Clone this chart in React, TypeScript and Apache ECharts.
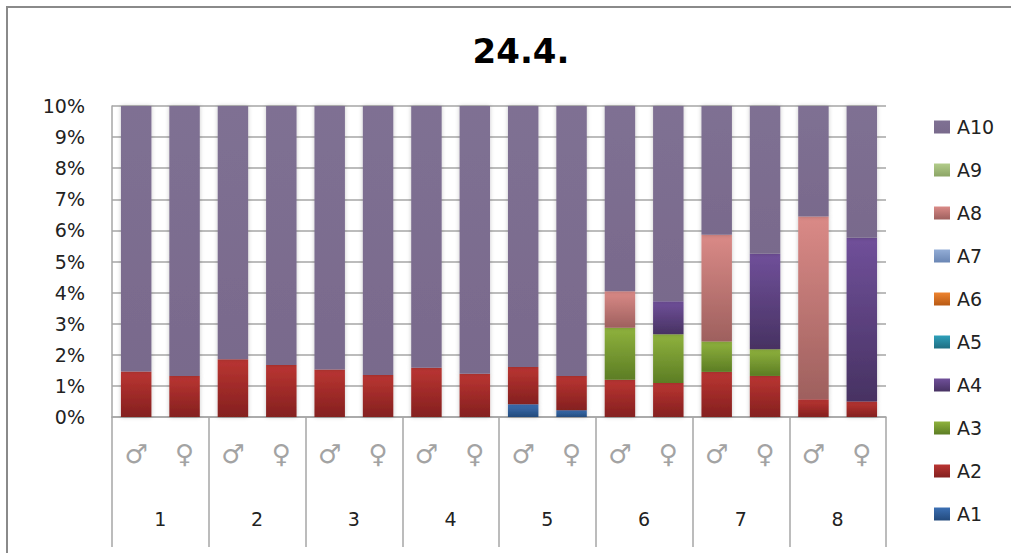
import React, { useEffect, useRef } from "react";
import * as echarts from "echarts";

// Sex sub-categories (bottom row of the two-level axis) and group numbers
const sexLabels = ["♂", "♀", "♂", "♀", "♂", "♀", "♂", "♀", "♂", "♀", "♂", "♀", "♂", "♀", "♂", "♀"];
const groupLabels = ["1", "2", "3", "4", "5", "6", "7", "8"];
const yTicks = [0, 1, 2, 3, 4, 5, 6, 7, 8, 9, 10];

// Share of each class per bar, in percent
const a1 = [0, 0, 0, 0, 0, 0, 0, 0, 0.41, 0.22, 0, 0, 0, 0, 0, 0];
const a2 = [1.46, 1.32, 1.86, 1.67, 1.53, 1.35, 1.58, 1.39, 1.2, 1.1, 1.2, 1.09, 1.45, 1.32, 0.57, 0.5];
const a3 = [0, 0, 0, 0, 0, 0, 0, 0, 0, 0, 1.67, 1.57, 0.98, 0.86, 0, 0];
const a4 = [0, 0, 0, 0, 0, 0, 0, 0, 0, 0, 0, 1.06, 0, 3.07, 0, 5.26];
const a5 = [0, 0, 0, 0, 0, 0, 0, 0, 0, 0, 0, 0, 0, 0, 0, 0];
const a6 = [0, 0, 0, 0, 0, 0, 0, 0, 0, 0, 0, 0, 0, 0, 0, 0];
const a7 = [0, 0, 0, 0, 0, 0, 0, 0, 0, 0, 0, 0, 0, 0, 0, 0];
const a8 = [0, 0, 0, 0, 0, 0, 0, 0, 0, 0, 1.17, 0, 3.43, 0, 5.88, 0];
const a9 = [0, 0, 0, 0, 0, 0, 0, 0, 0, 0, 0, 0, 0, 0, 0, 0];
const a10 = [98.54, 98.68, 98.14, 98.33, 98.47, 98.65, 98.42, 98.61, 98.39, 98.68, 95.96, 96.28, 94.14, 94.75, 93.55, 94.24];

const seriesNames = ["A1", "A2", "A3", "A4", "A5", "A6", "A7", "A8", "A9", "A10"];
const seriesValues = [a1, a2, a3, a4, a5, a6, a7, a8, a9, a10];

// top / bottom shades of each class
const shades: [string, string][] = [
  ["#3C70B4", "#234A7C"],
  ["#BA3532", "#84201F"],
  ["#8FB23D", "#5C7D24"],
  ["#70509A", "#473262"],
  ["#2FA0BA", "#1F6E82"],
  ["#EE8430", "#B85A14"],
  ["#93ADD6", "#6A86B4"],
  ["#DA8A87", "#9E605E"],
  ["#B2CC8A", "#8CA566"],
  ["#7F7093", "#796A8C"],
];

const FONT = "DejaVu Sans";

export default function App() {
  const ref = useRef<HTMLDivElement>(null);

  useEffect(() => {
    if (!ref.current) return;
    const chart = echarts.init(ref.current, null, { renderer: "svg" });

    const series = seriesNames.map((name, i) => ({
      name,
      type: "bar",
      stack: "total",
      xAxisIndex: 0,
      barCategoryGap: "37%",
      clip: true,
      data: seriesValues[i],
      itemStyle: {
        color: new echarts.graphic.LinearGradient(0, 0, 0, 1, [
          { offset: 0, color: shades[i][0] },
          { offset: 1, color: shades[i][1] },
        ]),
        shadowColor: "rgba(0,0,0,0.22)",
        shadowBlur: 4,
      },
    }));

    chart.setOption({
      animation: false,
      backgroundColor: "#ffffff",
      title: {
        text: "24.4.",
        left: 516,
        top: 29,
        textAlign: "center",
        textStyle: { fontFamily: FONT, fontWeight: "bold", fontSize: 34, color: "#000" },
      },
      graphic: [
        {
          type: "rect",
          shape: { x: 7, y: 7, width: 1100, height: 600 },
          style: { fill: "none", stroke: "#8a8a8a", lineWidth: 2 },
          silent: true,
        },
      ],
      legend: {
        orient: "vertical",
        left: 929,
        top: 112,
        itemWidth: 16,
        itemHeight: 13,
        itemGap: 23,
        icon: "rect",
        data: seriesNames.slice().reverse(),
        textStyle: { fontFamily: FONT, fontSize: 19, color: "#222", lineHeight: 20, padding: [0, 0, 0, 2] },
      },
      grid: { left: 112, top: 106, right: 125, bottom: 136, containLabel: false },
      xAxis: [
        {
          type: "category",
          data: sexLabels,
          position: "bottom",
          axisLine: { show: true, lineStyle: { color: "#a6a6a6", width: 1.5 } },
          axisTick: { show: false },
          axisLabel: { interval: 0, margin: 24, fontFamily: FONT, fontSize: 26, color: "#a3a3a3" },
        },
        {
          type: "category",
          data: groupLabels,
          position: "bottom",
          axisLine: { show: false },
          axisTick: { show: true, interval: 0, length: 130, lineStyle: { color: "#a6a6a6", width: 1.5 } },
          axisLabel: { interval: 0, margin: 92, fontFamily: FONT, fontSize: 19, color: "#222" },
        },
      ],
      yAxis: {
        type: "value",
        min: yTicks[0],
        max: yTicks[yTicks.length - 1],
        interval: 1,
        axisLine: { show: true, lineStyle: { color: "#a6a6a6", width: 1.5 } },
        axisTick: { show: false },
        splitLine: { show: true, lineStyle: { color: "#a6a6a6", width: 1.5 } },
        axisLabel: {
          margin: 27,
          fontFamily: FONT,
          fontSize: 19,
          color: "#222",
          formatter: (v: number) => `${v}%`,
        },
      },
      series,
    });

    return () => chart.dispose();
  }, []);

  return (
    <div
      ref={ref}
      style={{ position: "fixed", left: 0, top: 0, width: 1011, height: 553 }}
    />
  );
}
